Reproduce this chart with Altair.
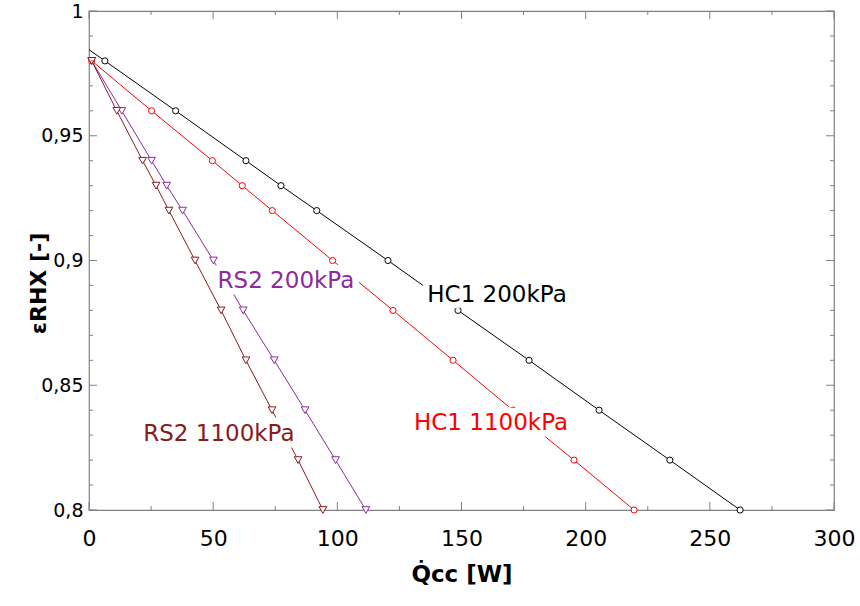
import altair as alt
import pandas as pd

# ---------------- data ----------------
eps_levels = [0.98, 0.96, 0.94, 0.93, 0.92, 0.90, 0.88, 0.86, 0.84, 0.82, 0.80]

hc1_200_x = [6.4, 34.9, 63.2, 77.3, 91.7, 120.4, 148.6, 177.2, 205.4, 233.9, 262.2]
hc1_200_y = eps_levels
hc1_200_start = [0.0, 0.9845]  # line start on the axis, no marker

hc1_1100_x = [1.1, 25.2, 49.7, 61.7, 73.8, 98.1, 122.4, 146.6, 170.7, 195.3, 219.5]
hc1_1100_y = eps_levels

rs2_200_x = [1.1, 13.2, 25.2, 31.3, 37.7, 50.1, 62.1, 74.6, 87.0, 99.3, 111.5]
rs2_200_y = eps_levels

rs2_1100_x = [1.1, 11.2, 21.6, 27.0, 32.2, 42.7, 53.2, 63.2, 73.7, 84.2, 94.2]
rs2_1100_y = eps_levels

series_names = ["HC1 200kPa", "HC1 1100kPa", "RS2 200kPa", "RS2 1100kPa"]
line_colors = ["#000000", "#ff0000", "#8e2a9e", "#8b1a1a"]
text_colors = ["#000000", "#ff0000", "#800080", "#800000"]

label_text = ["HC1 200kPa", "HC1 1100kPa", "RS2 200kPa", "RS2 1100kPa"]
label_x = [164.3, 161.9, 79.3, 52.3]
label_y = [0.8834, 0.8320, 0.8890, 0.8277]

x_major = [0, 50, 100, 150, 200, 250, 300]
x_minor = [25, 75, 125, 175, 225, 275]
y_major = [0.80, 0.85, 0.90, 0.95, 1.00]
y_minor = [0.81, 0.82, 0.83, 0.84, 0.86, 0.87, 0.88, 0.89,
           0.91, 0.92, 0.93, 0.94, 0.96, 0.97, 0.98, 0.99]

# ---------------- tables ----------------
rows = []
rows.append({"series": "HC1 200kPa", "x": hc1_200_start[0], "y": hc1_200_start[1], "marker": False, "i": 0})
for i, (x, y) in enumerate(zip(hc1_200_x, hc1_200_y)):
    rows.append({"series": "HC1 200kPa", "x": x, "y": y, "marker": True, "i": i + 1})
for name, xs, ys in [("HC1 1100kPa", hc1_1100_x, hc1_1100_y),
                     ("RS2 200kPa", rs2_200_x, rs2_200_y),
                     ("RS2 1100kPa", rs2_1100_x, rs2_1100_y)]:
    for i, (x, y) in enumerate(zip(xs, ys)):
        rows.append({"series": name, "x": x, "y": y, "marker": True, "i": i})
df = pd.DataFrame(rows)

labels = pd.DataFrame({"text": label_text, "x": label_x, "y": label_y, "series": label_text})

W, H = 745, 499
FONT = "DejaVu Sans"
FRAME = "#808080"

xscale = alt.Scale(domain=[0, 300], nice=False, zero=False)
yscale = alt.Scale(domain=[0.8, 1.0], nice=False, zero=False)
line_scale = alt.Scale(domain=series_names, range=line_colors)
text_scale = alt.Scale(domain=series_names, range=text_colors)

xaxis = alt.Axis(values=x_major, title="Q\u0307cc [W]", labelFont=FONT, labelFontSize=22,
                 labelColor="black", labelPadding=18, titleFont=FONT, titleFontSize=23,
                 titleFontWeight="bold", titleColor="black", titlePadding=14,
                 domain=False, ticks=False, grid=False, labelFlush=False)
yaxis = alt.Axis(values=y_major, title="\u03b5RHX   [-]", labelFont=FONT, labelFontSize=19,
                 labelColor="black", labelPadding=6,
                 labelExpr="replace(format(datum.value, '.2~f'), '.', ',')",
                 titleFont=FONT, titleFontSize=22, titleFontWeight="bold", titleColor="black",
                 titleX=-51, titleY=272, titleAlign="center", titleBaseline="middle", titleAngle=270,
                 domain=False, ticks=False, grid=False, labelFlush=False)

base = alt.Chart(df)

lines = base.mark_line(strokeWidth=1).encode(
    x=alt.X("x:Q", scale=xscale, axis=xaxis),
    y=alt.Y("y:Q", scale=yscale, axis=yaxis),
    color=alt.Color("series:N", scale=line_scale, legend=None),
    detail="series:N",
    order="i:Q",
)

circles = base.transform_filter(
    "datum.marker && indexof(datum.series, 'HC1') == 0"
).mark_point(shape="circle", size=38, filled=True, fill="white", strokeWidth=1, opacity=1).encode(
    x=alt.X("x:Q", scale=xscale),
    y=alt.Y("y:Q", scale=yscale),
    stroke=alt.Stroke("series:N", scale=line_scale, legend=None),
)

triangles = base.transform_filter(
    "datum.marker && indexof(datum.series, 'RS2') == 0"
).mark_point(shape="triangle-down", size=60, filled=True, fill="white", strokeWidth=1, opacity=1).encode(
    x=alt.X("x:Q", scale=xscale),
    y=alt.Y("y:Q", scale=yscale),
    stroke=alt.Stroke("series:N", scale=line_scale, legend=None),
)

lab_base = alt.Chart(labels)
halo = lab_base.mark_text(font=FONT, fontSize=23, align="center", baseline="alphabetic",
                          stroke="white", strokeWidth=13, strokeJoin="round", fill="white").encode(
    x=alt.X("x:Q", scale=xscale), y=alt.Y("y:Q", scale=yscale), text="text:N")
texts = lab_base.mark_text(font=FONT, fontSize=23, align="center", baseline="alphabetic").encode(
    x=alt.X("x:Q", scale=xscale), y=alt.Y("y:Q", scale=yscale), text="text:N",
    color=alt.Color("series:N", scale=text_scale, legend=None))

# inward ticks on all four sides
def yticks(vals, length):
    d = alt.Chart(pd.DataFrame({"v": vals}))
    left = d.mark_rule(color=FRAME, strokeWidth=1).encode(
        y=alt.Y("v:Q", scale=yscale), x=alt.value(0), x2=alt.value(length))
    right = d.mark_rule(color=FRAME, strokeWidth=1).encode(
        y=alt.Y("v:Q", scale=yscale), x=alt.value(W), x2=alt.value(W - length))
    return left + right

def xticks(vals, length):
    d = alt.Chart(pd.DataFrame({"v": vals}))
    bottom = d.mark_rule(color=FRAME, strokeWidth=1).encode(
        x=alt.X("v:Q", scale=xscale), y=alt.value(H), y2=alt.value(H - length))
    top = d.mark_rule(color=FRAME, strokeWidth=1).encode(
        x=alt.X("v:Q", scale=xscale), y=alt.value(0), y2=alt.value(length))
    return bottom + top

chart = alt.layer(
    lines, circles, triangles, halo, texts,
    yticks(y_major, 8), yticks(y_minor, 4), xticks(x_major, 8), xticks(x_minor, 4),
).properties(
    width=W, height=H,
    autosize=alt.AutoSizeParams(type="none"),
    padding={"left": 89, "top": 11, "right": 26, "bottom": 96},
    background="white",
).configure_view(stroke=FRAME, strokeWidth=1.2)

chart.save("out.html", embed_options={"renderer": "svg", "actions": False})
